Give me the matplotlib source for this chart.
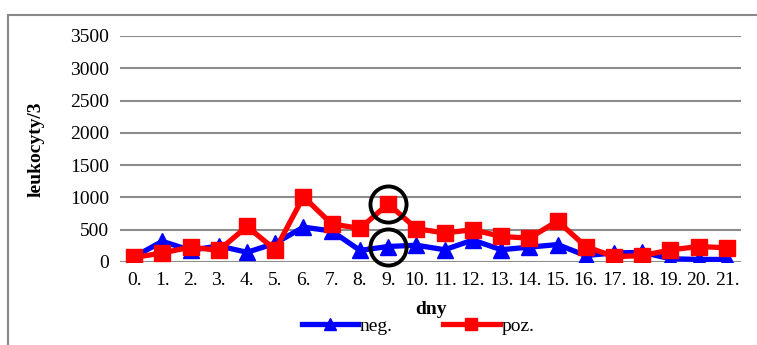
import matplotlib.pyplot as plt
from matplotlib.patches import Rectangle

# dny (kategorie na ose x)
days = ['0.', '1.', '2.', '3.', '4.', '5.', '6.', '7.', '8.', '9.', '10.',
        '11.', '12.', '13.', '14.', '15.', '16.', '17.', '18.', '19.', '20.', '21.']

# leukocyty/3 - negativní skupina
neg = [80, 320, 180, 250, 150, 290, 540, 480, 180, 240, 260,
       190, 340, 190, 230, 270, 100, 140, 150, 50, 40, 40]

# leukocyty/3 - pozitivní skupina
poz = [70, 140, 230, 180, 550, 190, 1010, 590, 520, 900, 516,
       450, 500, 395, 370, 634, 240, 83, 98, 187, 240, 220]

y_ticks = [0, 500, 1000, 1500, 2000, 2500, 3000, 3500]
highlight_day = 9

plt.rcParams['font.family'] = ['Liberation Serif', 'DejaVu Serif']

fig = plt.figure(figsize=(7.57, 3.45), dpi=100)
ax = fig.add_axes([120 / 757, 1 - 262 / 345, 621 / 757, 226 / 345])

x = list(range(len(days)))
ax.plot(x, neg, color='#0000ff', lw=3.8, marker='^', markersize=12,
        label='neg.', zorder=3)
ax.plot(x, poz, color='#ff0000', lw=3.8, marker='s', markersize=12,
        label='poz.', zorder=4)

# zvýraznění 9. dne
ax.plot([highlight_day], [poz[highlight_day]], 'o', ms=26, mfc='none',
        mec='black', mew=2.8, zorder=5, clip_on=False)
ax.plot([highlight_day], [neg[highlight_day]], 'o', ms=26, mfc='none',
        mec='black', mew=2.8, zorder=5, clip_on=False)

ax.set_xlim(-0.5, len(days) - 0.5)
ax.set_ylim(0, 3500)
ax.set_xticks(x)
ax.set_xticklabels(days, fontsize=14)
ax.set_yticks(y_ticks)
ax.set_yticklabels([str(v) for v in y_ticks], fontsize=14)
ax.tick_params(length=0, pad=8)
ax.tick_params(axis='x', pad=7)
ax.grid(axis='y', color='#8c8c8c', lw=1.5)
ax.set_axisbelow(True)
for s in ax.spines.values():
    s.set_visible(False)

ax.set_xlabel('dny', fontsize=14, fontweight='bold', labelpad=9)
ax.set_ylabel('leukocyty/3', fontsize=14, fontweight='bold', labelpad=18)

leg = fig.legend(loc='center', bbox_to_anchor=(418 / 757, 1 - 326 / 345),
                 ncol=2, frameon=False, fontsize=14, handlelength=2.9,
                 handletextpad=0.1, columnspacing=2.6, borderpad=0,
                 markerscale=0.75)

# rámeček grafu
fig.patches.append(Rectangle((8 / 757, -0.1), 1.2, 1 - 15 / 345 + 0.1,
                             transform=fig.transFigure, fill=False,
                             edgecolor='#888888', lw=1.5))

fig.savefig('out.png', dpi=100, facecolor='white')
